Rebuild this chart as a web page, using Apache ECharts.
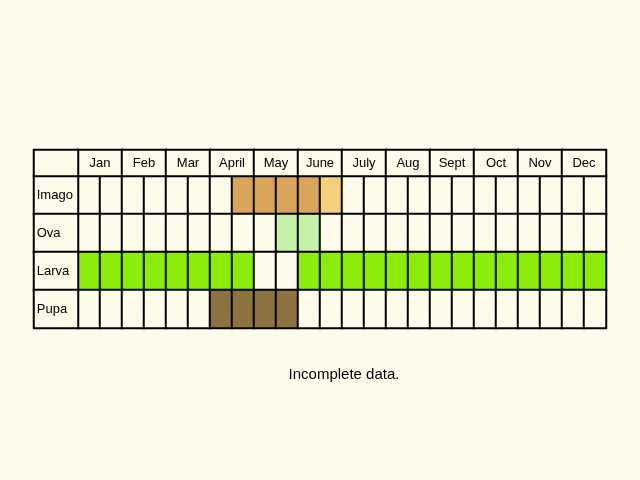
<!DOCTYPE html>
<html>
<head>
<meta charset="utf-8">
<script src="https://cdn.jsdelivr.net/npm/echarts@6/dist/echarts.min.js"></script>
<style>
html, body { margin: 0; padding: 0; background: #fdfbe9; }
#main { width: 640px; height: 480px; }
</style>
</head>
<body>
<div id="main"></div>
<script>
// month header and life stages
var months = ['Jan', 'Feb', 'Mar', 'April', 'May', 'June', 'July', 'Aug', 'Sept', 'Oct', 'Nov', 'Dec'];
var stages = ['Imago', 'Ova', 'Larva', 'Pupa'];
// 24 half-month cells per stage, 0 = empty
var imago = [0,0,0,0,0,0,0,1,1,1,1,2,0,0,0,0,0,0,0,0,0,0,0,0];
var ova   = [0,0,0,0,0,0,0,0,0,3,3,0,0,0,0,0,0,0,0,0,0,0,0,0];
var larva = [4,4,4,4,4,4,4,4,0,0,4,4,4,4,4,4,4,4,4,4,4,4,4,4];
var pupa  = [0,0,0,0,0,0,5,5,5,5,0,0,0,0,0,0,0,0,0,0,0,0,0,0];
var rows = [imago, ova, larva, pupa];

var palette = ['#fdfbe9', '#d9a55b', '#f4cf7d', '#c6f1a9', '#8cec0b', '#8c7341'];
var cellBorder = { borderColor: '#000', borderWidth: 2 };

var halfCats = [];
for (var i = 0; i < 24; i++) halfCats.push(i);

var mainData = [];
rows.forEach(function(r, y) {
	r.forEach(function(v, x) {
		mainData.push({ value: [x, y, v], itemStyle: { color: palette[v] } });
	});
});
var headData = months.map(function(m, i) { return { value: [i, 0, 0], name: m }; });
var labelData = stages.map(function(s, i) { return { value: [0, i, 0], name: s }; });

function hiddenAxis(type, data, idx) {
	return { type: 'category', data: data, gridIndex: idx, show: false, inverse: type === 'y' };
}

var chart = echarts.init(document.getElementById('main'));
chart.setOption({
	backgroundColor: '#fdfbe9',
	title: {
		text: 'Incomplete data.', left: 339, top: 362, textAlign: 'center',
		textStyle: { fontFamily: 'Liberation Sans', fontWeight: 'normal', fontSize: 15, color: '#000' }
	},
	grid: [
		{ left: 78, top: 176, width: 528, height: 152 },
		{ left: 78, top: 150, width: 528, height: 26 },
		{ left: 34, top: 176, width: 44, height: 152 },
		{ left: 34, top: 150, width: 44, height: 26 }
	],
	xAxis: [
		hiddenAxis('x', halfCats, 0),
		hiddenAxis('x', months, 1),
		hiddenAxis('x', ['a'], 2),
		hiddenAxis('x', ['a'], 3)
	],
	yAxis: [
		hiddenAxis('y', stages, 0),
		hiddenAxis('y', ['h'], 1),
		hiddenAxis('y', stages, 2),
		hiddenAxis('y', ['h'], 3)
	],
	series: [
		{ type: 'heatmap', xAxisIndex: 0, yAxisIndex: 0, data: mainData, itemStyle: cellBorder },
		{
			type: 'heatmap', xAxisIndex: 1, yAxisIndex: 1, data: headData,
			itemStyle: { color: '#fdfbe9', borderColor: '#000', borderWidth: 2 },
			label: { show: true, formatter: '{b}', color: '#000', fontFamily: 'Liberation Sans', fontSize: 13 }
		},
		{
			type: 'heatmap', xAxisIndex: 2, yAxisIndex: 2, data: labelData,
			itemStyle: { color: '#fdfbe9', borderColor: '#000', borderWidth: 2 },
			label: { show: true, formatter: '{b}', position: 'insideLeft', distance: 4, color: '#000', fontFamily: 'Liberation Sans', fontSize: 13 }
		},
		{
			type: 'heatmap', xAxisIndex: 3, yAxisIndex: 3, data: [[0, 0, 0]],
			itemStyle: { color: '#fdfbe9', borderColor: '#000', borderWidth: 2 }
		}
	]
});
</script>
</body>
</html>
